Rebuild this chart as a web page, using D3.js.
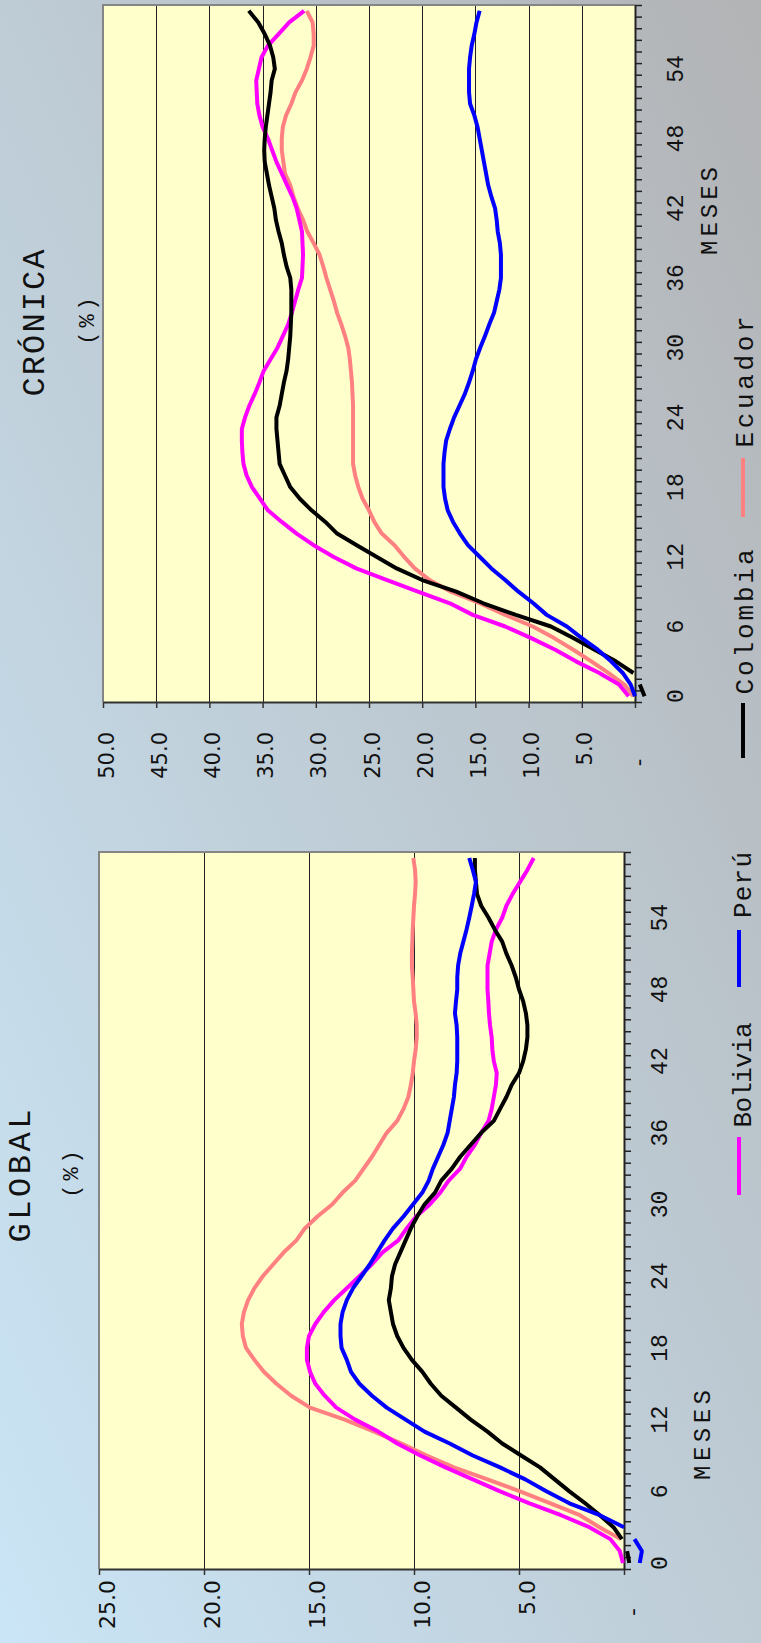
<!DOCTYPE html>
<html>
<head>
<meta charset="utf-8">
<script src="https://cdn.jsdelivr.net/npm/d3@7"></script>
<style>
html,body{margin:0;padding:0;background:#fff;}
svg{display:block;}
</style>
</head>
<body>
<svg id="chart" width="761" height="1643"></svg>
<script>
// ---------------- DATA ----------------
const months = d3.range(0, 60);
const monthTickLabels = [0, 6, 12, 18, 24, 30, 36, 42, 48, 54];
const globalTicks = [0, 5, 10, 15, 20, 25];
const cronicaTicks = [0, 5, 10, 15, 20, 25, 30, 35, 40, 45, 50];
const seriesNames = ["Colombia", "Ecuador", "Bolivia", "Perú"];
const seriesColors = ["#000000", "#FF8080", "#FF00FF", "#0000FF"];

// GLOBAL (%)
const globalColombia = [-0.25,-0.15,0.1,0.5,1.15,1.85,2.6,3.3,4.0,4.9,
  5.8,6.5,7.3,8.0,8.7,9.2,9.6,10.1,10.5,10.8,
  11.0,11.1,11.2,11.1,11.05,10.9,10.65,10.4,10.15,9.85,
  9.5,9.0,8.7,8.2,7.8,7.3,6.8,6.2,5.9,5.6,
  5.35,5.0,4.8,4.67,4.6,4.6,4.67,4.8,5.0,5.15,
  5.35,5.6,5.8,6.15,6.45,6.8,7.0,7.05,7.1,7.1];
const globalEcuador = [null,null,0.15,1.17,2.1,3.5,4.95,6.5,8.1,9.4,
  10.6,11.9,13.3,14.95,15.85,16.55,17.15,17.6,18.0,18.15,
  18.2,18.1,17.9,17.6,17.2,16.7,16.2,15.6,15.2,14.6,
  13.9,13.4,12.8,12.4,12.0,11.65,11.3,10.8,10.5,10.27,
  10.15,10.06,10.0,9.92,9.87,9.87,9.92,10.0,10.03,10.06,
  10.1,10.1,10.08,10.06,10.03,10.0,9.95,9.92,9.95,10.03];
const globalBolivia = [0.05,0.2,0.65,1.65,3.0,4.5,5.9,7.2,8.5,9.7,
  10.8,11.7,12.8,13.7,14.25,14.7,14.95,15.1,15.1,15.0,
  14.7,14.3,13.8,13.2,12.6,12.0,11.5,10.75,10.35,9.9,
  9.25,8.75,8.35,7.8,7.5,7.1,6.8,6.45,6.3,6.2,
  6.1,6.06,6.2,6.27,6.3,6.38,6.43,6.46,6.5,6.5,
  6.5,6.4,6.3,6.1,5.8,5.6,5.3,4.95,4.6,4.3];
const globalPeru = [-0.75,-0.85,-0.5,0.0,1.15,2.6,3.7,4.7,5.9,7.2,
  8.3,9.5,10.4,11.3,12.0,12.6,13.0,13.2,13.45,13.5,
  13.5,13.4,13.2,12.9,12.5,12.1,11.75,11.4,11.0,10.5,
  10.05,9.6,9.3,9.1,8.85,8.6,8.4,8.3,8.2,8.1,
  8.05,7.97,7.94,7.94,7.94,7.97,8.05,8.0,7.94,7.94,
  7.9,7.8,7.65,7.5,7.37,7.25,7.14,7.05,7.2,7.37];

// CRÓNICA (%)
const cronicaColombia = [-0.9,-0.45,0.15,1.8,3.8,5.8,7.9,11.2,14.25,16.8,
  20.0,22.4,24.3,26.15,28.0,29.1,30.4,31.5,32.4,32.9,
  33.4,33.5,33.6,33.7,33.7,33.4,33.2,33.0,32.75,32.6,
  32.5,32.4,32.35,32.3,32.3,32.3,32.4,32.75,33.0,33.2,
  33.5,33.75,33.9,34.15,34.4,34.6,34.8,34.85,34.8,34.7,
  34.55,34.4,34.25,34.15,33.85,34.0,34.3,34.8,35.4,36.3];
const cronicaEcuador = [0.15,1.0,2.5,4.1,5.8,7.6,9.6,12.2,14.6,17.3,
  19.3,20.7,21.7,22.6,23.8,24.5,25.0,25.6,26.0,26.3,
  26.5,26.5,26.5,26.5,26.5,26.5,26.55,26.6,26.7,26.8,
  26.95,27.25,27.6,28.0,28.3,28.65,29.0,29.3,29.65,30.2,
  30.8,31.2,31.7,32.1,32.4,32.9,33.05,33.2,33.2,33.1,
  32.8,32.3,31.9,31.3,30.85,30.5,30.2,30.2,30.3,30.85];
const cronicaBolivia = [0.6,1.5,3.35,5.55,7.5,9.75,12.2,15.25,17.4,20.4,
  23.3,26.2,28.35,30.2,31.8,33.2,34.5,35.25,36.0,36.5,
  36.8,36.9,36.95,36.95,36.65,36.25,35.75,35.3,34.9,34.25,
  33.6,33.1,32.6,32.25,31.95,31.65,31.3,31.25,31.2,31.25,
  31.3,31.55,31.8,32.2,32.7,33.2,33.7,34.1,34.5,35.0,
  35.3,35.5,35.55,35.6,35.35,35.1,34.5,33.5,32.5,31.1];
const cronicaPeru = [0.0,0.4,1.15,2.25,3.5,5.0,6.4,8.3,9.55,10.95,
  12.2,13.5,14.6,15.7,16.45,17.1,17.6,17.85,18.0,18.0,
  18.0,17.9,17.75,17.4,17.0,16.5,16.0,15.6,15.25,14.95,
  14.55,14.1,13.7,13.25,13.0,12.75,12.6,12.6,12.6,12.7,
  12.9,13.0,13.15,13.5,13.8,14.0,14.2,14.4,14.6,14.8,
  15.1,15.5,15.6,15.6,15.6,15.5,15.35,15.1,14.9,14.6];

// ---------------- LAYOUT ----------------
const W = 761, H = 1643;
const svg = d3.select("#chart");
const defs = svg.append("defs");
const grad = defs.append("linearGradient").attr("id", "bg")
  .attr("x1", 0).attr("y1", 1).attr("x2", 1).attr("y2", 0);
grad.append("stop").attr("offset", 0).attr("stop-color", "#CAE5F6");
grad.append("stop").attr("offset", 1).attr("stop-color", "#B2B3B5");
svg.append("rect").attr("width", W).attr("height", H).attr("fill", "url(#bg)");

const fmt = v => v === 0 ? "-\u2007\u2007" : d3.format(".1f")(v);

function rotText(g, x, y, txt, opts) {
  const t = g.append("text")
    .attr("transform", `translate(${x},${y}) rotate(-90)`)
    .attr("text-anchor", opts.anchor || "middle")
    .attr("dominant-baseline", "central")
    .attr("font-family", opts.family || "'Liberation Mono', monospace")
    .attr("font-size", opts.size)
    .attr("fill", "#111")
    .text(txt);
  if (opts.len) t.attr("textLength", opts.len).attr("lengthAdjust", "spacing");
  if (opts.ls) t.attr("letter-spacing", opts.ls);
  return t;
}

const panels = [
  {
    x0: 99, x1: 624, y0: 852, y1: 1569, max: 25, ticks: globalTicks,
    series: [globalColombia, globalEcuador, globalBolivia, globalPeru],
    valDx: 8, valGap: 11, valFont: 22, monthDx: 37,
    meses: [703, 1435, 90],
    title: ["GLOBAL", 21, 1176, 133], pct: [72, 1172],
    legend: [
      { idx: 2, lx: 739, ly0: 1137, ly1: 1195, tx: 744, ty: 1075, len: 105, fs: 26 },
      { idx: 3, lx: 739, ly0: 930, ly1: 987, tx: 744, ty: 885, len: 66, fs: 26 }
    ]
  },
  {
    x0: 103, x1: 635, y0: 5, y1: 702, max: 50, ticks: cronicaTicks,
    series: [cronicaColombia, cronicaEcuador, cronicaBolivia, cronicaPeru],
    valDx: 3, valGap: 30, valFont: 21, monthDx: 42,
    meses: [710, 211, 88],
    title: ["CRÓNICA", 35, 323, 147], pct: [88, 319],
    legend: [
      { idx: 0, lx: 743, ly0: 703, ly1: 758, tx: 746, ty: 622, len: 145, fs: 26 },
      { idx: 1, lx: 743, ly0: 458, ly1: 517, tx: 746, ty: 382, len: 131, fs: 26 }
    ]
  }
];

const drawOrder = [1, 2, 0, 3];

panels.forEach(p => {
  const g = svg.append("g");
  const xS = d3.scaleLinear().domain([0, p.max]).range([p.x1, p.x0]);
  const yB = d3.scaleBand().domain(months).range([p.y1, p.y0]);
  const yL = d3.scaleLinear().domain([0, months.length]).range([p.y1, p.y0]);

  // plot area
  g.append("rect").attr("x", p.x0).attr("y", p.y0)
    .attr("width", p.x1 - p.x0).attr("height", p.y1 - p.y0).attr("fill", "#FFFFCC");

  // gridlines
  g.append("g").selectAll("line")
    .data(p.ticks.filter(t => t > 0 && t < p.max)).join("line")
    .attr("x1", d => Math.round(xS(d)) + 0.5).attr("x2", d => Math.round(xS(d)) + 0.5)
    .attr("y1", p.y0).attr("y2", p.y1)
    .attr("stroke", "#222").attr("stroke-width", 1);

  // frame (top + left)
  g.append("path").attr("d", `M${p.x1},${p.y0}H${p.x0}V${p.y1}`)
    .attr("fill", "none").attr("stroke", "#858585").attr("stroke-width", 2);

  // value axis (bottom edge, rotated chart)
  const vAxis = g.append("g").attr("transform", `translate(0,${p.y1})`)
    .call(d3.axisBottom(xS).tickValues(p.ticks).tickSize(6).tickSizeOuter(0).tickFormat(fmt));
  vAxis.select(".domain").attr("stroke", "#333").attr("stroke-width", 2);
  vAxis.selectAll(".tick line").attr("stroke", "#333").attr("stroke-width", 1.5);
  vAxis.selectAll(".tick text")
    .attr("transform", `translate(${p.valDx},${p.valGap}) rotate(-90)`)
    .attr("x", 0).attr("y", 0).attr("dy", null)
    .attr("text-anchor", "end").attr("dominant-baseline", "central")
    .attr("font-family", "'DejaVu Sans', sans-serif").attr("font-size", p.valFont)
    .attr("fill", "#111");

  // month axis (right edge) - tick marks at month boundaries
  const mAxis = g.append("g").attr("transform", `translate(${p.x1},0)`)
    .call(d3.axisRight(yL).tickValues(d3.range(0, months.length + 1)).tickSize(7).tickSizeOuter(0).tickFormat(""));
  mAxis.select(".domain").attr("stroke", "#222").attr("stroke-width", 2);
  mAxis.selectAll(".tick line").attr("stroke", "#222").attr("stroke-width", 1.5);

  // month labels at category centres
  const lAxis = g.append("g").attr("transform", `translate(${p.x1},0)`)
    .call(d3.axisRight(yB).tickValues(monthTickLabels).tickSize(0).tickSizeOuter(0));
  lAxis.select(".domain").remove();
  lAxis.selectAll(".tick line").remove();
  lAxis.selectAll(".tick text")
    .attr("transform", `translate(${p.monthDx},0) rotate(-90)`)
    .attr("x", 0).attr("y", 0).attr("dy", null)
    .attr("text-anchor", "middle").attr("dominant-baseline", "central")
    .attr("font-family", "'Liberation Mono', monospace").attr("font-size", 23)
    .attr("fill", "#111");

  // series
  const line = d3.line()
    .x(d => xS(d.v))
    .y(d => yB(d.m) + yB.bandwidth() / 2);
  drawOrder.forEach(i => {
    const pts = months.map(m => ({ m, v: p.series[i][m] }));
    g.append("path").datum(pts)
      .attr("d", line.defined(d => d.v !== null && d.v >= 0))
      .attr("fill", "none").attr("stroke", seriesColors[i]).attr("stroke-width", 4)
      .attr("stroke-linejoin", "round").attr("stroke-linecap", "butt");
    g.append("path").datum(pts)
      .attr("d", line.defined(d => d.v !== null && d.v < 0))
      .attr("fill", "none").attr("stroke", seriesColors[i]).attr("stroke-width", 4)
      .attr("stroke-linejoin", "round").attr("stroke-linecap", "butt");
  });

  // titles
  rotText(g, p.meses[0], p.meses[1], "MESES", { size: 24, len: p.meses[2] });
  rotText(g, p.title[1], p.title[2], p.title[0], { size: 32, len: p.title[3] });
  rotText(g, p.pct[0], p.pct[1], "(%)", { size: 22, ls: 4 });

  // legend
  p.legend.forEach(it => {
    g.append("line").attr("x1", it.lx).attr("x2", it.lx).attr("y1", it.ly0).attr("y2", it.ly1)
      .attr("stroke", seriesColors[it.idx]).attr("stroke-width", 4);
    rotText(g, it.tx, it.ty, seriesNames[it.idx], { size: it.fs, len: it.len });
  });
});
</script>
</body>
</html>
